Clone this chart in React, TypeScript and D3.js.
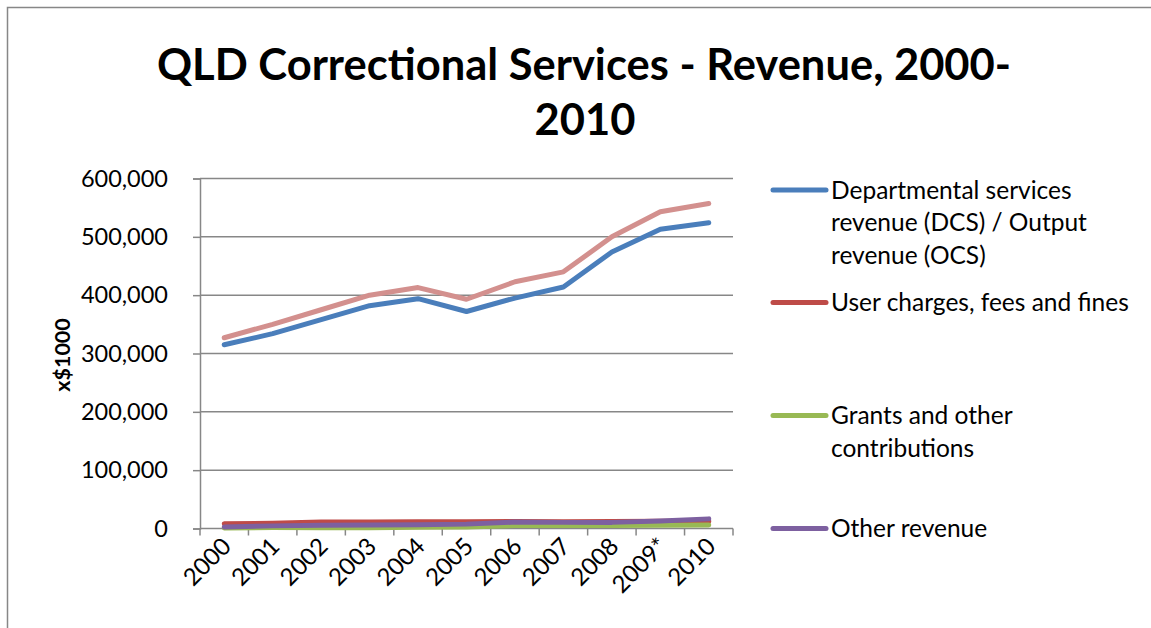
import React, { useEffect, useRef } from 'react';
import * as d3 from 'd3';

const years = ['2000', '2001', '2002', '2003', '2004', '2005', '2006', '2007', '2008', '2009*', '2010'];
const deptServices = [315000, 334000, 358000, 382000, 394000, 372000, 395000, 414000, 474000, 513000, 524000];
const userCharges = [8000, 9000, 11000, 11000, 11500, 11500, 12000, 11500, 12000, 12500, 12500];
const grants = [1000, 1500, 1500, 1500, 2000, 2500, 5000, 5000, 5000, 5500, 6000];
const otherRevenue = [2500, 4500, 5500, 6000, 6500, 7500, 11000, 10500, 10500, 13000, 16500];
const totalRevenue = [327000, 350000, 375000, 400000, 413000, 393000, 423000, 440000, 500000, 543000, 557000];
const yTicks = [0, 100000, 200000, 300000, 400000, 500000, 600000];

const legendItems = [
    { lines: ['Departmental services', 'revenue (DCS) / Output', 'revenue (OCS)'], color: '#4A7EBB', y: 190 },
    { lines: ['User charges, fees and fines'], color: '#BE4B48', y: 302.5 },
    { lines: ['Grants and other', 'contributions'], color: '#98B954', y: 415.5 },
    { lines: ['Other revenue'], color: '#7D60A0', y: 528.5 },
];

const App: React.FC = () => {
    const ref = useRef<SVGSVGElement | null>(null);

    useEffect(() => {
        if (!ref.current) return;
        const svg = d3.select(ref.current);
        svg.selectAll('*').remove();
        const font = 'Lato, "DejaVu Sans", sans-serif';
        const grid = '#878787';

        // outer chart border (right and bottom are off-page)
        svg.append('rect')
            .attr('x', 7.5).attr('y', 7.5)
            .attr('width', 1300).attr('height', 800)
            .attr('fill', '#fff').attr('stroke', grid).attr('stroke-width', 1.5);

        // title
        const title = svg.append('text')
            .attr('text-anchor', 'middle')
            .attr('font-family', font).attr('font-weight', 'bold').attr('font-size', 43.5);
        title.append('tspan').attr('x', 584).attr('y', 80).text('QLD Correctional Services - Revenue, 2000-');
        title.append('tspan').attr('x', 585).attr('y', 135).text('2010');

        const x = d3.scaleBand().domain(years).range([200, 733]);
        const y = d3.scaleLinear().domain([0, 600000]).range([528.5, 178.5]);

        // gridlines
        svg.append('g').selectAll('line')
            .data(yTicks.filter(d => d > 0))
            .enter().append('line')
            .attr('x1', 200).attr('x2', 733)
            .attr('y1', d => y(d)).attr('y2', d => y(d))
            .attr('stroke', grid).attr('stroke-width', 1.5);

        // y axis
        const yAxis = svg.append('g')
            .attr('transform', 'translate(200,0)')
            .call(d3.axisLeft(y).tickValues(yTicks).tickSize(7).tickPadding(25)
                .tickFormat(d => d3.format(',')(d as number)));
        yAxis.select('.domain').attr('stroke', grid).attr('stroke-width', 1.5);
        yAxis.selectAll('.tick line').attr('stroke', grid).attr('stroke-width', 1.5);
        yAxis.selectAll('.tick text')
            .attr('font-family', font).attr('font-size', 23.5).attr('fill', '#000');

        // x axis
        svg.append('line')
            .attr('x1', 200).attr('x2', 733).attr('y1', y(0)).attr('y2', y(0))
            .attr('stroke', grid).attr('stroke-width', 1.5);
        const boundaries = years.map(d => x(d) as number).concat([733]);
        svg.append('g').selectAll('line')
            .data(boundaries)
            .enter().append('line')
            .attr('x1', d => d).attr('x2', d => d)
            .attr('y1', y(0)).attr('y2', y(0) + 7)
            .attr('stroke', grid).attr('stroke-width', 1.5);
        svg.append('g').selectAll('text')
            .data(years)
            .enter().append('text')
            .attr('transform', d => `translate(${(x(d) as number) + x.bandwidth() / 2 + 4},${y(0) + 15}) rotate(-45)`)
            .attr('text-anchor', 'end')
            .attr('dominant-baseline', 'middle')
            .attr('font-family', font).attr('font-size', 24)
            .text(d => d);

        // y axis title
        svg.append('text')
            .attr('transform', 'translate(70,355) rotate(-90)')
            .attr('text-anchor', 'middle')
            .attr('font-family', font).attr('font-weight', 'bold').attr('font-size', 21.5)
            .text('x$1000');

        // series
        const line = d3.line<number>()
            .x((_, i) => (x(years[i]) as number) + x.bandwidth() / 2)
            .y(d => y(d));
        const series = [
            { values: deptServices, color: '#4A7EBB' },
            { values: userCharges, color: '#BE4B48' },
            { values: grants, color: '#98B954' },
            { values: otherRevenue, color: '#7D60A0' },
            { values: totalRevenue, color: '#D3908E' },
        ];
        series.forEach(s => {
            svg.append('path')
                .datum(s.values)
                .attr('d', line)
                .attr('fill', 'none')
                .attr('stroke', s.color)
                .attr('stroke-width', 5)
                .attr('stroke-linejoin', 'round')
                .attr('stroke-linecap', 'round');
        });

        // legend
        legendItems.forEach(item => {
            svg.append('line')
                .attr('x1', 773).attr('x2', 826)
                .attr('y1', item.y).attr('y2', item.y)
                .attr('stroke', item.color).attr('stroke-width', 5)
                .attr('stroke-linecap', 'round');
            const t = svg.append('text')
                .attr('font-family', font).attr('font-size', 24.5);
            item.lines.forEach((l, i) => {
                t.append('tspan')
                    .attr('x', 831)
                    .attr('y', item.y + 8.5 + i * 32.5)
                    .text(l);
            });
        });
    }, []);

    return (
        <svg ref={ref} width={1151} height={628}
            style={{ position: 'absolute', left: 0, top: 0, background: '#fff' }} />
    );
};

export default App;
